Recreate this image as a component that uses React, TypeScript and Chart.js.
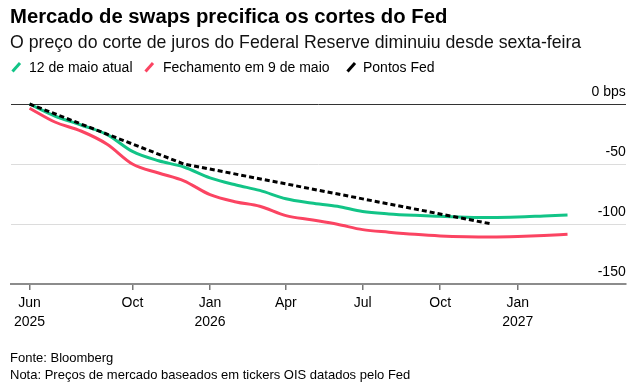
import React, { useEffect, useRef } from "react";
import { Chart, registerables } from "chart.js";

Chart.register(...registerables);

const FONT = '"Liberation Sans", Arial, Helvetica, sans-serif';
const GREEN = "#12c487";
const RED = "#fb4462";

const months = [
  "2025-06", "2025-07", "2025-08", "2025-09", "2025-10", "2025-11", "2025-12",
  "2026-01", "2026-02", "2026-03", "2026-04", "2026-05", "2026-06", "2026-07",
  "2026-08", "2026-09", "2026-10", "2026-11", "2026-12", "2027-01", "2027-02", "2027-03",
];
const atual = [
  0, -10, -17.5, -25.5, -39.5, -47.3, -52.5, -61.5, -67.5, -72, -79, -82.5, -85.2,
  -89.6, -91.6, -92.8, -93.6, -94.3, -94.6, -94.2, -93.3, -92.5,
];
const fechamento = [
  -3.5, -15, -22.5, -33.5, -50, -57.5, -64, -75.5, -81.6, -85.2, -93, -96.5, -100.2,
  -104.7, -106.8, -108.6, -109.9, -110.6, -110.8, -110.4, -109.6, -108.6,
];
const fedMonths = ["2025-06", "2025-12", "2026-12"];
const fedDots = [0, -50, -100];

const xTickMonths = ["2025-06", "2025-10", "2026-01", "2026-04", "2026-07", "2026-10", "2027-01"];
const xTickLabels = [["Jun", "2025"], ["Oct"], ["Jan", "2026"], ["Apr"], ["Jul"], ["Oct"], ["Jan", "2027"]];
const yTicks = [0, -50, -100, -150];
const yTickLabels = ["0 bps", "-50", "-100", "-150"];
const axisStart = "2025-05-10";
const axisEnd = "2027-05-09";

const legendItems = ["12 de maio atual", "Fechamento em 9 de maio", "Pontos Fed"];
const legendColors = [GREEN, RED, "#000"];

function dayOf(s: string): number {
  const p = s.split("-").map(Number);
  const t = Date.UTC(p[0], p[1] - 1, p[2] || 1);
  return (t - Date.UTC(2025, 5, 1)) / 86400000;
}

function Slash({ color, left }: { color: string; left: number }) {
  return (
    <svg
      width={12}
      height={12}
      style={{ position: "absolute", left, top: 61, overflow: "visible" }}
    >
      <line x1={1.5} y1={10.5} x2={9} y2={2} stroke={color} strokeWidth={3} />
    </svg>
  );
}

export default function App() {
  const ref = useRef<HTMLCanvasElement>(null);

  useEffect(() => {
    if (!ref.current) return;
    const yLabelPlugin = {
      id: "yLabels",
      afterDraw(chart: any) {
        const { ctx, chartArea, scales } = chart;
        ctx.save();
        ctx.font = `14px ${FONT}`;
        ctx.fillStyle = "#000";
        ctx.textAlign = "right";
        ctx.textBaseline = "alphabetic";
        yTicks.forEach((v, i) => {
          ctx.fillText(yTickLabels[i], chartArea.right, scales.y.getPixelForValue(v) - 8);
        });
        ctx.restore();
      },
    };

    const chart = new Chart(ref.current, {
      type: "line",
      data: {
        datasets: [
          {
            label: legendItems[2],
            data: fedMonths.map((m, i) => ({ x: dayOf(m), y: fedDots[i] })),
            borderColor: "#000",
            borderWidth: 3,
            borderDash: [5, 3],
            pointRadius: 0,
            tension: 0,
            clip: false,
          },
          {
            label: legendItems[0],
            data: months.map((m, i) => ({ x: dayOf(m), y: atual[i] })),
            borderColor: GREEN,
            borderWidth: 3,
            pointRadius: 0,
            cubicInterpolationMode: "monotone",
            clip: false,
          },
          {
            label: legendItems[1],
            data: months.map((m, i) => ({ x: dayOf(m), y: fechamento[i] })),
            borderColor: RED,
            borderWidth: 3,
            pointRadius: 0,
            cubicInterpolationMode: "monotone",
            clip: false,
          },
        ],
      },
      options: {
        animation: false,
        responsive: false,
        maintainAspectRatio: false,
        layout: { padding: { left: 11, right: 11.3, top: 104, bottom: 0 } },
        plugins: { legend: { display: false }, tooltip: { enabled: false } },
        scales: {
          x: {
            type: "linear",
            min: dayOf(axisStart),
            max: dayOf(axisEnd),
            afterBuildTicks: (s: any) => {
              s.ticks = xTickMonths.map((m) => ({ value: dayOf(m) }));
            },
            afterFit: (s: any) => {
              s.height = 104;
            },
            grid: {
              display: true,
              drawOnChartArea: false,
              drawTicks: true,
              tickLength: 6,
              color: "#777",
              lineWidth: 1.5,
            },
            border: { display: true, color: "#8c8c8c", width: 2 },
            ticks: {
              autoSkip: false,
              maxRotation: 0,
              padding: 3.5,
              color: "#000",
              font: { family: FONT, size: 14, lineHeight: 1.357 },
              callback: (_v: any, i: number) => xTickLabels[i],
            },
          },
          y: {
            type: "linear",
            position: "right",
            min: -150,
            max: 0,
            afterBuildTicks: (s: any) => {
              s.ticks = yTicks.map((v) => ({ value: v }));
            },
            afterFit: (s: any) => {
              s.width = 0;
            },
            grid: {
              color: (c: any) => (c.tick && c.tick.value === 0 ? "#333" : "#dcdcdc"),
              lineWidth: 1,
              drawTicks: false,
            },
            border: { display: false },
            ticks: { display: false },
          },
        },
      },
      plugins: [yLabelPlugin],
    } as any);
    return () => chart.destroy();
  }, []);

  const txt = (extra: React.CSSProperties): React.CSSProperties => ({
    position: "absolute",
    fontFamily: FONT,
    color: "#000",
    lineHeight: 1,
    whiteSpace: "nowrap",
    ...extra,
  });

  return (
    <div
      style={{
        position: "absolute",
        left: 0,
        top: 0,
        width: 637,
        height: 388,
        background: "#fff",
        overflow: "hidden",
      }}
    >
      <canvas
        ref={ref}
        width={637}
        height={388}
        style={{ position: "absolute", left: 0, top: 0, width: 637, height: 388 }}
      />
      <div style={txt({ left: 10, top: 6, fontSize: 20.3, fontWeight: 700 })}>
        Mercado de swaps precifica os cortes do Fed
      </div>
      <div style={txt({ left: 10, top: 34, fontSize: 17.7, color: "#111" })}>
        O preço do corte de juros do Federal Reserve diminuiu desde sexta-feira
      </div>
      <Slash color={legendColors[0]} left={11} />
      <div style={txt({ left: 29, top: 60, fontSize: 14 })}>{legendItems[0]}</div>
      <Slash color={legendColors[1]} left={144} />
      <div style={txt({ left: 163, top: 60, fontSize: 14 })}>{legendItems[1]}</div>
      <Slash color={legendColors[2]} left={346} />
      <div style={txt({ left: 363, top: 60, fontSize: 14 })}>{legendItems[2]}</div>
      <div style={txt({ left: 10, top: 350.5, fontSize: 13 })}>Fonte: Bloomberg</div>
      <div style={txt({ left: 10, top: 367.5, fontSize: 13 })}>
        Nota: Preços de mercado baseados em tickers OIS datados pelo Fed
      </div>
    </div>
  );
}
